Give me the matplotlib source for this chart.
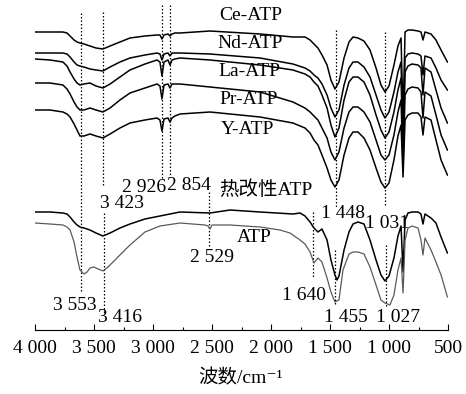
import matplotlib
matplotlib.use("Agg")
import matplotlib.pyplot as plt
from matplotlib.ticker import FixedLocator, MultipleLocator

############################
# Fonts / colors
############################

plt.rcParams["font.family"] = ["Liberation Serif", "Noto Sans CJK SC", "DejaVu Sans"]
plt.rcParams["font.size"] = 14

BLACK = "black"
GREY = "#5a5a5a"

############################
# Data (offset absorption; larger = lower on the chart)
############################

# shared wavenumber grid of the five modified samples (cm-1)
wn_top = [4000, 3873, 3763, 3729, 3703, 3669, 3644, 3619, 3585, 3534, 3483, 3424,
          3364, 3280, 3195, 3068, 2966, 2941, 2924, 2907, 2873, 2856, 2839, 2814,
          2771, 2517, 2093, 1814, 1712, 1669, 1636, 1602, 1568, 1525, 1492, 1458,
          1424, 1381, 1339, 1305, 1263, 1212, 1161, 1110, 1068, 1034, 1000, 958,
          924, 898, 881, 864, 839, 805, 754, 729, 712, 695, 644, 602, 559, 505]

ce_atp = [32, 32, 32, 33, 36, 40, 42, 43, 44, 46, 48, 49,
          46, 42, 38, 36, 35, 35, 39, 35, 34, 36, 34, 33,
          33, 31, 34, 37, 37, 40, 44, 48, 55, 65, 80, 89,
          82, 58, 42, 37, 38, 41, 50, 68, 85, 92, 86, 65,
          46, 38, 120, 32, 30, 30, 31, 32, 40, 32, 34, 40, 50, 62]

nd_atp = [53, 53, 53, 54, 57, 62, 65, 66, 67, 69, 70, 71,
          67, 62, 58, 55, 53, 54, 60, 54, 53, 56, 53, 53,
          53, 54, 58, 64, 68, 71, 75, 78, 84, 95, 108, 117,
          110, 85, 68, 62, 62, 67, 77, 95, 110, 118, 112, 92,
          72, 62, 140, 58, 54, 53, 54, 56, 75, 56, 58, 68, 80, 90]

la_atp = [59, 60, 62, 66, 72, 79, 83, 85, 84, 83, 86, 88,
          84, 77, 70, 64, 60, 62, 76, 62, 60, 65, 60, 59,
          58, 60, 65, 70, 74, 77, 82, 86, 95, 108, 125, 137,
          128, 100, 82, 77, 77, 82, 95, 115, 130, 138, 132, 112,
          90, 78, 155, 72, 66, 64, 65, 68, 95, 68, 72, 90, 108, 123]

pr_atp = [83, 83, 85, 89, 94, 102, 107, 110, 110, 108, 110, 112,
          108, 100, 93, 88, 84, 86, 99, 85, 84, 88, 84, 84,
          84, 87, 92, 102, 108, 112, 116, 120, 128, 138, 152, 160,
          152, 128, 112, 107, 107, 112, 122, 140, 155, 160, 155, 135,
          112, 100, 168, 95, 89, 87, 88, 92, 118, 92, 96, 115, 135, 150]

y_atp = [110, 110, 112, 114, 117, 124, 130, 136, 136, 134, 136, 138,
         134, 128, 123, 120, 118, 120, 131, 119, 118, 122, 118, 116,
         114, 112, 117, 123, 128, 133, 140, 145, 155, 168, 180, 187,
         180, 155, 138, 132, 132, 138, 150, 168, 182, 188, 183, 160,
         136, 125, 177, 120, 115, 113, 113, 117, 135, 117, 120, 140, 160, 175]

# thermally modified ATP
wn_heat = [4000, 3873, 3763, 3729, 3703, 3669, 3644, 3619, 3585, 3534, 3483, 3424,
           3364, 3280, 3195, 3068, 2941, 2856, 2771, 2517, 2347, 2093, 1814, 1754,
           1712, 1669, 1636, 1602, 1568, 1525, 1492, 1458, 1441, 1424, 1381, 1339,
           1305, 1263, 1212, 1161, 1110, 1068, 1034, 1000, 958, 924, 898, 881,
           864, 839, 805, 754, 729, 712, 695, 644, 602, 559, 505]
heat_atp = [212, 212, 213, 214, 217, 222, 225, 227, 228, 230, 233, 236,
            233, 228, 224, 219, 216, 214, 212, 213, 210, 212, 214, 213,
            216, 222, 228, 232, 229, 240, 260, 275, 280, 276, 250, 232,
            224, 222, 224, 240, 260, 275, 281, 276, 258, 236, 226, 272,
            220, 213, 212, 212, 214, 224, 214, 218, 223, 237, 253]

# raw ATP
wn_raw = [4000, 3873, 3763, 3729, 3703, 3669, 3644, 3619, 3585, 3559, 3534, 3500,
          3466, 3424, 3381, 3339, 3280, 3195, 3068, 2941, 2771, 2559, 2534, 2517,
          2500, 2347, 2093, 1924, 1839, 1754, 1712, 1669, 1636, 1602, 1568, 1525,
          1492, 1458, 1424, 1390, 1339, 1305, 1263, 1212, 1161, 1110, 1068, 1034,
          992, 958, 924, 898, 881, 864, 839, 805, 754, 729, 712, 695, 644, 602,
          559, 505]
raw_atp = [223, 224, 225, 227, 230, 242, 257, 270, 274, 272, 268, 267,
           269, 271, 267, 262, 255, 245, 232, 226, 223, 225, 226, 229,
           225, 225, 227, 230, 233, 240, 244, 252, 263, 258, 262, 278,
           292, 302, 300, 270, 254, 252, 252, 254, 267, 285, 300, 303,
           305, 295, 270, 258, 293, 240, 228, 226, 228, 240, 255, 238, 250, 262,
           275, 297]

# dotted guide lines: wavenumber, top, bottom
guides = [(3610, 13, 293), (3426, 12, 185), (3416, 213, 313), (2926, 5, 180),
          (2854, 5, 177), (2529, 192, 248), (1448, 30, 207), (1031, 32, 205),
          (1640, 212, 277), (1455, 250, 305), (1027, 245, 308)]

# sample names and peak labels: text, x (cm-1), y
sample_labels = [("Ce-ATP", 2170, 15), ("Nd-ATP", 2178, 43), ("La-ATP", 2186, 72),
                 ("Pr-ATP", 2186, 100), ("Y-ATP", 2203, 130),
                 ("热改性ATP", 2042, 190), ("ATP", 2144, 238)]
peak_labels = [("2 926", 3076, 188), ("2 854", 2695, 185), ("3 423", 3263, 203),
               ("2 529", 2500, 258), ("3 553", 3661, 305), ("3 416", 3280, 318),
               ("1 448", 1390, 213), ("1 031", 1017, 223), ("1 640", 1720, 295),
               ("1 455", 1364, 317), ("1 027", 924, 317)]

tick_pos = [4000, 3500, 3000, 2500, 2000, 1500, 1000, 500]
tick_labels = ["4 000", "3 500", "3 000", "2 500", "2 000", "1 500", "1 000", "500"]

############################
# Plotting
############################

fig = plt.figure(figsize=(4.66, 3.94), dpi=100)
ax = fig.add_axes([35 / 466, 64 / 394, 413 / 466, 330 / 394])

for wn, y0, y1 in guides:
    ax.plot([wn, wn], [y0, y1], color=BLACK, linewidth=0.9,
            linestyle=(0, (1.2, 1.6)), zorder=1)

for series in [ce_atp, nd_atp, la_atp, pr_atp, y_atp]:
    ax.plot(wn_top, series, color=BLACK, linewidth=1.1, zorder=3)

ax.plot(wn_heat, heat_atp, color=BLACK, linewidth=1.1, zorder=3)
ax.plot(wn_raw, raw_atp, color=GREY, linewidth=0.9, zorder=3)

for txt, x, y in sample_labels + peak_labels:
    ax.text(x, y, txt, ha="center", va="center", fontsize=14, zorder=4)

ax.set_xlim(4000, 500)
ax.set_ylim(330, 0)

for side in ["top", "right", "left"]:
    ax.spines[side].set_visible(False)
ax.spines["bottom"].set_linewidth(0.8)

ax.xaxis.set_major_locator(FixedLocator(tick_pos))
ax.set_xticklabels(tick_labels)
ax.xaxis.set_minor_locator(MultipleLocator(250))
ax.tick_params(axis="x", which="major", direction="in", length=4.5, width=0.8, pad=7)
ax.tick_params(axis="x", which="minor", direction="in", length=2.5, width=0.8)
ax.set_yticks([])

fig.text(241 / 466, 1 - 378 / 394, "波数/cm⁻¹", ha="center", va="center", fontsize=14)

fig.savefig("out.png", dpi=100)
